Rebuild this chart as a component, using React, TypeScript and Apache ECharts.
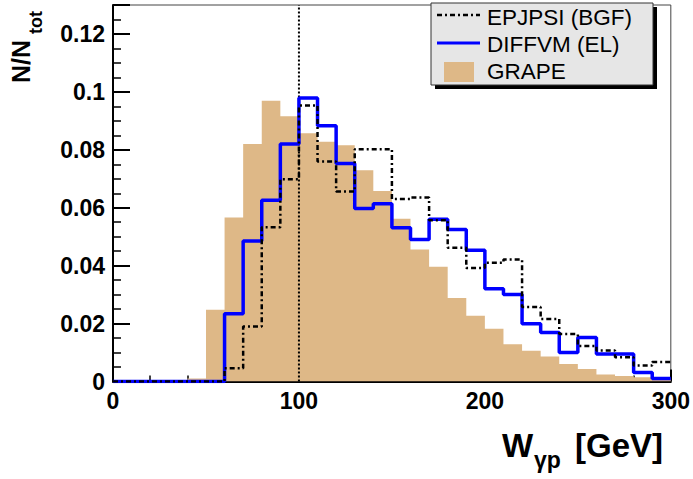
import React, { useEffect, useRef } from "react";
import * as echarts from "echarts";

// Bin left edges (GeV), bin width 10
const binEdges: number[] = [0, 10, 20, 30, 40, 50, 60, 70, 80, 90, 100, 110, 120, 130, 140, 150, 160, 170, 180, 190, 200, 210, 220, 230, 240, 250, 260, 270, 280, 290];
const xMax = 300;

const grapeValues: number[] = [0, 0, 0, 0, 0.001, 0.0248, 0.0566, 0.082, 0.0969, 0.0916, 0.0857, 0.0828, 0.0816, 0.0729, 0.0658, 0.0562, 0.0456, 0.0396, 0.0288, 0.0227, 0.0182, 0.0129, 0.0106, 0.0086, 0.006, 0.0043, 0.0024, 0.0019, 0.0015, 0.001];
const diffvmValues: number[] = [0, 0, 0, 0, 0, 0, 0.0234, 0.0485, 0.0626, 0.082, 0.0979, 0.0883, 0.0753, 0.0597, 0.0614, 0.0531, 0.049, 0.056, 0.0525, 0.0453, 0.032, 0.03, 0.0199, 0.0169, 0.01, 0.0152, 0.0095, 0.0095, 0.0031, 0.001];
const epjpsiValues: number[] = [0, 0, 0, 0, 0, 0, 0.0046, 0.019, 0.0533, 0.0698, 0.0953, 0.076, 0.0656, 0.0802, 0.0802, 0.063, 0.0635, 0.0557, 0.0462, 0.0392, 0.041, 0.0421, 0.0257, 0.0216, 0.0164, 0.0123, 0.0107, 0.0084, 0.0055, 0.0067];

const seriesNames = ["EPJPSI (BGF)", "DIFFVM (EL)", "GRAPE"];
const cutValue = 100;

const FONT = "'Liberation Sans', Arial, Helvetica, sans-serif";

function stepData(vals: number[]): number[][] {
  const d = binEdges.map((e, i) => [e, vals[i]]);
  d.push([xMax, vals[vals.length - 1]]);
  return d;
}

export default function App() {
  const ref = useRef<HTMLDivElement>(null);
  useEffect(() => {
    if (!ref.current) return;
    const chart = echarts.init(ref.current, undefined, { renderer: "svg" });
    const axisLabelStyle = { fontFamily: FONT, fontWeight: "bold" as const, fontSize: 23, color: "#000" };
    chart.setOption({
      animation: false,
      backgroundColor: "#fff",
      grid: { left: 113, right: 20, top: 5, bottom: 97.5, show: true, borderColor: "#444", borderWidth: 1, backgroundColor: "transparent" },
      xAxis: {
        type: "value", min: 0, max: 300, interval: 100,
        axisLine: { show: true, onZero: false, lineStyle: { color: "#000", width: 2 } },
        axisTick: { show: true, inside: true, length: 12, lineStyle: { color: "#000", width: 2 } },
        minorTick: { show: true, splitNumber: 5, length: 6, lineStyle: { color: "#000", width: 1.5 } },
        splitLine: { show: false },
        axisLabel: { ...axisLabelStyle, margin: 8 },
      },
      yAxis: {
        type: "value", min: 0, max: 0.13, interval: 0.02,
        axisLine: { show: true, onZero: false, lineStyle: { color: "#000", width: 2 } },
        axisTick: { show: true, inside: true, length: 17, lineStyle: { color: "#000", width: 2 } },
        minorTick: { show: true, splitNumber: 4, length: 8, lineStyle: { color: "#000", width: 1.5 } },
        splitLine: { show: false },
        axisLabel: { ...axisLabelStyle, margin: 8, showMaxLabel: false },
      },
      series: [
        {
          name: seriesNames[2], type: "line", step: "end", symbol: "none", z: 1,
          data: stepData(grapeValues),
          lineStyle: { width: 0, color: "#deb887" },
          areaStyle: { color: "#deb887", opacity: 1 },
        },
        {
          name: "cut", type: "line", symbol: "none", z: 2,
          data: [[cutValue, 0], [cutValue, 0.13]],
          lineStyle: { color: "#000", width: 2, type: [2, 2] },
        },
        {
          name: seriesNames[1], type: "line", step: "end", symbol: "none", z: 3,
          data: stepData(diffvmValues),
          lineStyle: { color: "#0000ff", width: 3.5 },
        },
        {
          name: seriesNames[0], type: "line", step: "end", symbol: "none", z: 4,
          data: stepData(epjpsiValues),
          lineStyle: { color: "#000", width: 2.5, type: [5, 3, 2, 3] },
        },
      ],
      graphic: [
        { type: "rect", shape: { x: 435, y: 7, width: 222, height: 82 }, style: { fill: "#000" }, z: 100 },
        { type: "rect", shape: { x: 431, y: 3, width: 222, height: 82 }, style: { fill: "#e6e6e6", stroke: "#333", lineWidth: 1 }, z: 101 },
        { type: "line", shape: { x1: 437, y1: 15, x2: 480, y2: 15 }, style: { stroke: "#000", lineWidth: 2.5, lineDash: [5, 3, 2, 3] }, z: 102 },
        { type: "line", shape: { x1: 437, y1: 43, x2: 480, y2: 43 }, style: { stroke: "#0000ff", lineWidth: 3 }, z: 102 },
        { type: "rect", shape: { x: 444, y: 62, width: 30, height: 20 }, style: { fill: "#deb887" }, z: 102 },
        { type: "text", x: 487, y: 17, style: { text: seriesNames[0], font: `22.5px ${FONT}`, fill: "#000", textVerticalAlign: "middle" }, z: 102 },
        { type: "text", x: 487, y: 44, style: { text: seriesNames[1], font: `22.5px ${FONT}`, fill: "#000", textVerticalAlign: "middle" }, z: 102 },
        { type: "text", x: 487, y: 71, style: { text: seriesNames[2], font: `22.5px ${FONT}`, fill: "#000", textVerticalAlign: "middle" }, z: 102 },
        // x axis title
        { type: "text", x: 502, y: 445, style: { text: "W", font: `bold 33px ${FONT}`, fill: "#000", textVerticalAlign: "middle" } },
        { type: "text", x: 534, y: 460, style: { text: "γp", font: `bold 23px ${FONT}`, fill: "#000", textVerticalAlign: "middle" } },
        { type: "text", x: 575, y: 445, style: { text: "[GeV]", font: `bold 33px ${FONT}`, fill: "#000", textVerticalAlign: "middle" } },
        // y axis title
        {
          type: "group", x: 20.5, y: 83, rotation: Math.PI / 2,
          children: [
            { type: "text", x: 0, y: 0, style: { text: "N/N", font: `bold 25px ${FONT}`, fill: "#000", textVerticalAlign: "middle" } },
            { type: "text", x: 49, y: 15, style: { text: "tot", font: `bold 18px ${FONT}`, fill: "#000", textVerticalAlign: "middle" } },
          ],
        },
      ],
    });
    return () => chart.dispose();
  }, []);
  return <div ref={ref} style={{ position: "fixed", left: 0, top: 0, width: 693, height: 479 }} />;
}
